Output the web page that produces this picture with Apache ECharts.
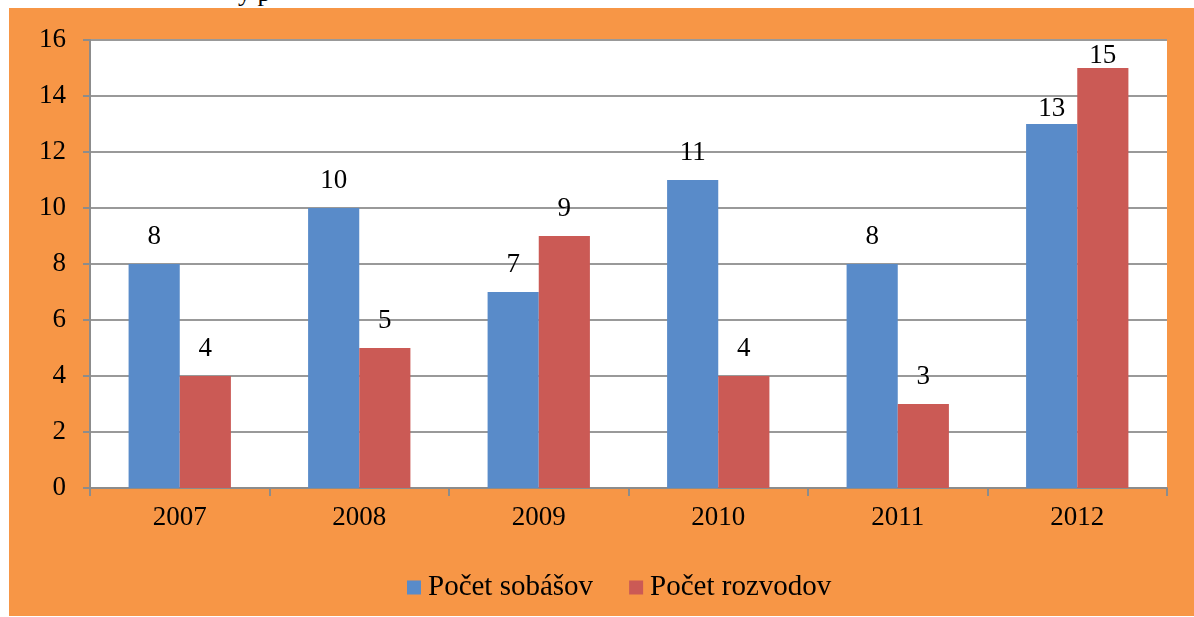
<!DOCTYPE html>
<html>
<head>
<meta charset="utf-8">
<script src="https://cdn.jsdelivr.net/npm/echarts@6/dist/echarts.min.js"></script>
<style>
  html, body { margin: 0; padding: 0; background: #ffffff; }
  #wrap { position: relative; width: 1194px; height: 617px; overflow: hidden; background: #ffffff; }
  #bg { position: absolute; left: 9px; top: 8px; width: 1185px; height: 608px; background: #F79646; }
  #top { position: absolute; left: 0; top: 0; width: 1194px; height: 8px; overflow: hidden; }
  #top span { position: absolute; left: 238px; top: -22px; font: 26px "Liberation Serif", serif; color: #000; }
  #main { position: absolute; left: 0; top: 0; width: 1194px; height: 617px; }
</style>
</head>
<body>
<div id="wrap">
  <div id="bg"></div>
  <div id="top"><span>y p</span></div>
  <div id="main"></div>
</div>
<script>
const categories = ['2007', '2008', '2009', '2010', '2011', '2012'];
const seriesNames = ['Počet sobášov', 'Počet rozvodov'];
const sobase = [8, 10, 7, 11, 8, 13];
const rozvody = [4, 5, 9, 4, 3, 15];
const yMin = 0, yMax = 16, yStep = 2;

const chart = echarts.init(document.getElementById('main'), null, { renderer: 'canvas' });
const font = '"Liberation Serif", serif';
const baseDistance = 14;
const labelStyle = { show: true, position: 'top', distance: baseDistance, color: '#000', fontSize: 27, fontFamily: font };

// labels near the top of the plot are pushed down to stay inside it
function withLabels(values) {
  return values.map(v => {
    const room = yMax - v;
    if (room <= 1) return { value: v, label: { distance: -1 } };
    if (room <= 3) return { value: v, label: { distance: 2 } };
    return v;
  });
}

chart.setOption({
  backgroundColor: 'transparent',
  animation: false,
  grid: { left: 90, right: 27, top: 40, bottom: 129, show: true, backgroundColor: '#ffffff', borderWidth: 0 },
  legend: {
    data: seriesNames,
    left: 402,
    top: 568,
    itemWidth: 14,
    itemHeight: 14,
    itemGap: 36,
    icon: 'rect',
    textStyle: { color: '#000', fontSize: 29, fontFamily: font, padding: [0, 0, 0, 2] }
  },
  xAxis: {
    type: 'category',
    data: categories,
    axisLine: { lineStyle: { color: '#8c8c8c', width: 2 } },
    axisTick: { show: true, length: 8, lineStyle: { color: '#8c8c8c', width: 2 } },
    axisLabel: { color: '#000', fontSize: 27, fontFamily: font, margin: 16 }
  },
  yAxis: {
    type: 'value',
    min: yMin, max: yMax, interval: yStep,
    axisLine: { show: true, lineStyle: { color: '#8c8c8c', width: 2 } },
    axisTick: { show: true, length: 7, lineStyle: { color: '#8c8c8c', width: 2 } },
    axisLabel: { color: '#000', fontSize: 27, fontFamily: font, margin: 24 },
    splitLine: { show: true, lineStyle: { color: '#999999', width: 2 } }
  },
  series: [
    { name: seriesNames[0], type: 'bar', data: withLabels(sobase), barGap: '0%', barCategoryGap: '43%',
      itemStyle: { color: '#598BC9' }, label: labelStyle },
    { name: seriesNames[1], type: 'bar', data: withLabels(rozvody), barGap: '0%', barCategoryGap: '43%',
      itemStyle: { color: '#CB5A55' }, label: labelStyle }
  ]
});
</script>
</body>
</html>
